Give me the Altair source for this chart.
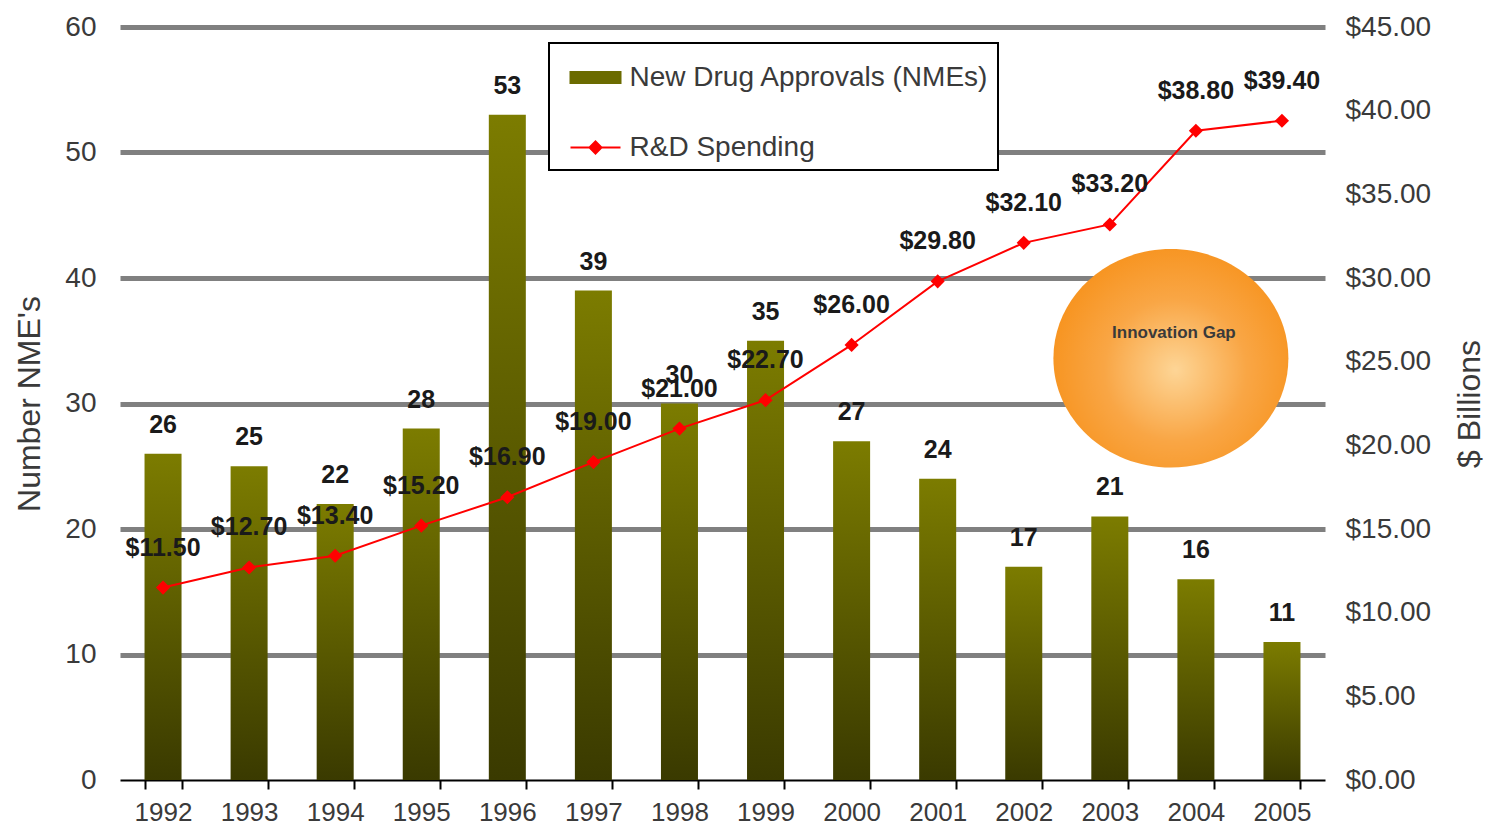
import altair as alt
import pandas as pd

years = [str(y) for y in range(1992, 2006)]
nmes = [26, 25, 22, 28, 53, 39, 30, 35, 27, 24, 17, 21, 16, 11]
rd_spending = [11.5, 12.7, 13.4, 15.2, 16.9, 19.0, 21.0, 22.7, 26.0, 29.8, 32.1, 33.2, 38.8, 39.4]
series_names = ["New Drug Approvals (NMEs)", "R&D Spending"]
gap_label = ["Innovation Gap"]
gap_year = ["2004"]
gap_level = [33.6]
left_ticks = [0, 10, 20, 30, 40, 50, 60]
right_ticks = [0, 5, 10, 15, 20, 25, 30, 35, 40, 45]

FONT = "Liberation Sans"
TXT = "#3a3a3a"

df = pd.DataFrame({"year": years, "nme": nmes, "rd": rd_spending})
df["rd_label"] = ["$%.2f" % v for v in rd_spending]
gap_df = pd.DataFrame({"year": gap_year, "level": gap_level, "label": gap_label})
legend_df = pd.DataFrame({"series": series_names})

x_enc = alt.X(
    "year:N",
    title=None,
    scale=alt.Scale(paddingInner=0.57, paddingOuter=0.285),
    axis=alt.Axis(
        tickBand="extent", domainColor="black", domainWidth=2,
        tickColor="black", tickWidth=2, tickSize=9,
        labelFontSize=26, labelPadding=10, labelAngle=0,
        labelColor=TXT, labelFont=FONT, grid=False,
    ),
)

left_scale = alt.Scale(domain=[0, 60])
left_axis = alt.Axis(
    orient="left", values=left_ticks, grid=True,
    gridColor={"condition": {"test": "datum.value == 0", "value": "transparent"}, "value": "#808080"},
    gridWidth=5, domain=False, ticks=False,
    labelFontSize=28, labelPadding=24, labelColor=TXT, labelFont=FONT,
    titleFontSize=32, titleFontWeight="normal", titleColor=TXT, titleFont=FONT,
    titlePadding=18,
)
right_scale = alt.Scale(domain=[0, 45])
right_axis = alt.Axis(
    orient="right", values=right_ticks, format="$.2f", grid=False,
    domain=False, ticks=False,
    labelFontSize=28, labelPadding=20, labelColor=TXT, labelFont=FONT,
    title="$ Billions", titleAngle=270, titleBaseline="top", titleFontSize=32,
    titleFontWeight="normal", titleColor=TXT, titleFont=FONT, titlePadding=24,
)

bar_grad = alt.LinearGradient(
    gradient="linear",
    stops=[alt.GradientStop(color="#7c7c00", offset=0),
           alt.GradientStop(color="#3a3a00", offset=1)],
    x1=0, x2=0, y1=0, y2=1,
)

base = alt.Chart(df)

bars = base.mark_bar(fill=bar_grad).encode(
    x=x_enc,
    y=alt.Y("nme:Q", scale=left_scale, axis=left_axis, title="Number NME's"),
)
bar_text = base.mark_text(
    dy=-16, baseline="bottom", fontSize=25, fontWeight="bold", font=FONT, color="#1a1a1a"
).encode(
    x=x_enc,
    y=alt.Y("nme:Q", scale=left_scale, axis=left_axis, title="Number NME's"),
    text="nme:Q",
)

ellipse_path = "M-1,0A1,0.93 0 1,1 1,0A1,0.93 0 1,1 -1,0Z"
radial = alt.RadialGradient(
    gradient="radial",
    stops=[alt.GradientStop(color="#fdd596", offset=0),
           alt.GradientStop(color="#f9a645", offset=0.55),
           alt.GradientStop(color="#f7931e", offset=1)],
    x1=0.52, y1=0.55, x2=0.52, y2=0.55, r1=0, r2=0.55,
)
circle = alt.Chart(gap_df).mark_point(
    shape=ellipse_path, size=235 * 235, filled=True, fill=radial,
    opacity=1, strokeWidth=0, xOffset=-25,
).encode(
    x=x_enc,
    y=alt.Y("level:Q", scale=left_scale, axis=left_axis, title="Number NME's"),
)
circle_text = alt.Chart(gap_df).mark_text(
    xOffset=-22, dy=-25, fontSize=17, fontWeight="bold", font=FONT, color="#3a3a3a"
).encode(
    x=x_enc,
    y=alt.Y("level:Q", scale=left_scale, axis=left_axis, title="Number NME's"),
    text="label:N",
)

line = base.mark_line(color="#ff0000", strokeWidth=2).encode(
    x=x_enc,
    y=alt.Y("rd:Q", scale=right_scale, axis=right_axis),
)
pts = base.mark_point(shape="diamond", size=200, filled=True, color="#ff0000", opacity=1).encode(
    x=x_enc,
    y=alt.Y("rd:Q", scale=right_scale, axis=right_axis),
)
line_text = base.mark_text(
    dy=-40, baseline="middle", fontSize=25, fontWeight="bold", font=FONT, color="#1a1a1a"
).encode(
    x=x_enc,
    y=alt.Y("rd:Q", scale=right_scale, axis=right_axis),
    text="rd_label:N",
)

rect_path = "M-0.52,-0.22H1.48V0.22H-0.52Z"
line_path = "M-0.52,0H1.48M0.24,0L0.48,-0.24L0.72,0L0.48,0.24Z"
leg = alt.Legend(
    title=None, orient="none", legendX=429, legendY=16,
    labelFontSize=28, labelColor=TXT, labelFont=FONT,
    symbolSize=2500, symbolStrokeWidth=2, labelOffset=20,
    rowPadding=30, padding=8.5, labelLimit=600,
)
legend_layer = alt.Chart(legend_df).mark_point(filled=True, opacity=1, strokeWidth=2).encode(
    fill=alt.Fill("series:N", scale=alt.Scale(domain=series_names, range=["#6b6b00", "#ff0000"]), legend=leg),
    stroke=alt.Stroke("series:N", scale=alt.Scale(domain=series_names, range=["#6b6b00", "#ff0000"]), legend=leg),
    shape=alt.Shape("series:N", scale=alt.Scale(domain=series_names, range=[rect_path, line_path]), legend=leg),
).transform_filter("datum.series == 'none'")

left = alt.layer(bars, bar_text, circle, circle_text)
right = alt.layer(line, pts, line_text, legend_layer)

chart = alt.layer(left, right).resolve_scale(y="independent").properties(
    width=1205, height=753,
    autosize=alt.AutoSizeParams(type="none"),
    padding={"left": 112, "top": 19, "right": 162, "bottom": 46},
).configure_view(stroke=None).configure_legend(
    strokeColor="black", strokeWidth=2, fillColor="white"
)

chart.save("out.html", embed_options={"renderer": "svg", "actions": False})
